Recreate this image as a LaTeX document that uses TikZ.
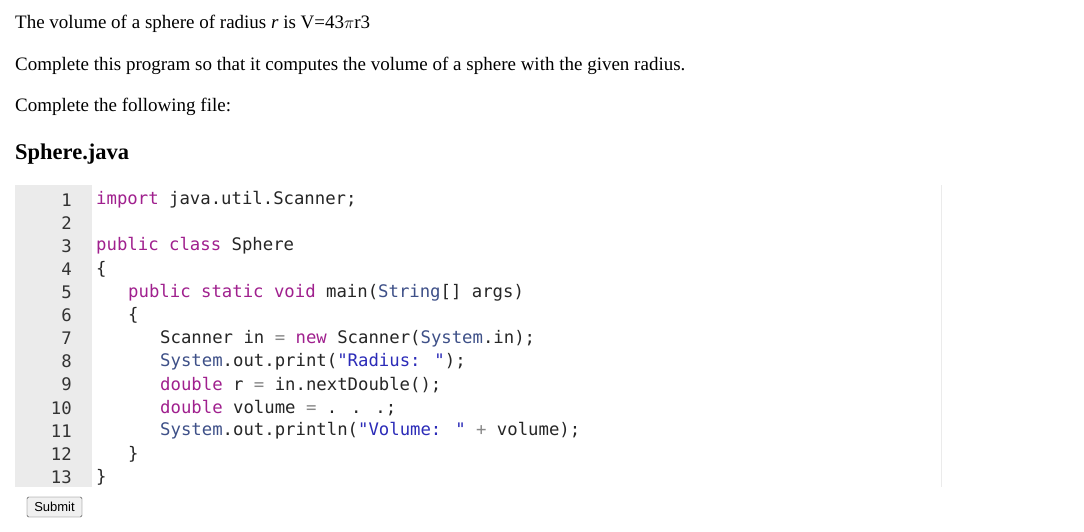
\documentclass[tikz,border=0pt]{standalone}
\usepackage{fontspec}
\setmainfont{Liberation Serif}
\newfontfamily\codefont{DejaVu Sans Mono}
\newfontfamily\btnfont{Liberation Sans}
\definecolor{kw}{HTML}{A0208E}
\definecolor{str}{HTML}{2B2BB8}
\definecolor{ty}{HTML}{3E5088}
\definecolor{op}{HTML}{888888}
\definecolor{gut}{HTML}{EBEBEB}
\newcommand\kwd[1]{\textcolor{kw}{#1}}
\newcommand\strg[1]{\textcolor{str}{#1}}
\newcommand\typ[1]{\textcolor{ty}{#1}}
\newcommand\opr[1]{\textcolor{op}{#1}}
\begin{document}
\begin{tikzpicture}[x=1pt,y=-1pt,
  txt/.style={anchor=west,inner sep=0pt,font=\fontsize{19}{22}\selectfont},
  num/.style={anchor=east,inner sep=0pt,font=\codefont\fontsize{17.3}{19}\selectfont,text=black!80},
  code/.style={anchor=west,inner sep=0pt,font=\codefont\fontsize{17.3}{19}\selectfont,text=black!85}]
\useasboundingbox[fill=white] (0,0) rectangle (1084,531);
\node[txt] (t1) at (15,24) {The volume of a sphere of radius \textit{r} is V=43$\pi$r3};
\node[txt] (t2) at (15,66) {Complete this program so that it computes the volume of a sphere with the given radius.};
\node[txt] (t3) at (15,107) {Complete the following file:};
\node[txt,font=\fontsize{22.5}{26}\selectfont\bfseries] (h) at (15,154) {Sphere.java};
\fill[gut] (15,185) rectangle (92,487);
\draw[black!8] (941,185) -- (941,487);
\foreach \i in {1,...,13} \node[num] (n\i) at (72,{200+(\i-1)*23.08}) {\i};
\def\ly#1{{200+(#1-1)*23.08}}
\node[code] (c1) at (96,\ly1) {\kwd{import} java.util.Scanner;};
\node[code] (c3) at (96,\ly3) {\kwd{public} \kwd{class} Sphere};
\node[code] (c4) at (96,\ly4) {\{};
\node[code] (c5) at (128,\ly5) {\kwd{public} \kwd{static} \kwd{void} main(\typ{String}[] args)};
\node[code] (c6) at (128,\ly6) {\{};
\node[code] (c7) at (160,\ly7) {Scanner in \opr{=} \kwd{new} Scanner(\typ{System}.in);};
\node[code] (c8) at (160,\ly8) {\typ{System}.out.print(\strg{"Radius: "});};
\node[code] (c9) at (160,\ly9) {\kwd{double} r \opr{=} in.nextDouble();};
\node[code] (c10) at (160,\ly{10}) {\kwd{double} volume \opr{=} . . .;};
\node[code] (c11) at (160,\ly{11}) {\typ{System}.out.println(\strg{"Volume: "} \opr{+} volume);};
\node[code] (c12) at (128,\ly{12}) {\}};
\node[code] (c13) at (96,\ly{13}) {\}};
\node[draw=black!75,fill=black!6,rounded corners=1.5pt,minimum width=55,minimum height=20,inner sep=0pt,font=\btnfont\fontsize{13}{15}\selectfont] (sub) at (54.5,507) {Submit};
\end{tikzpicture}
\end{document}
